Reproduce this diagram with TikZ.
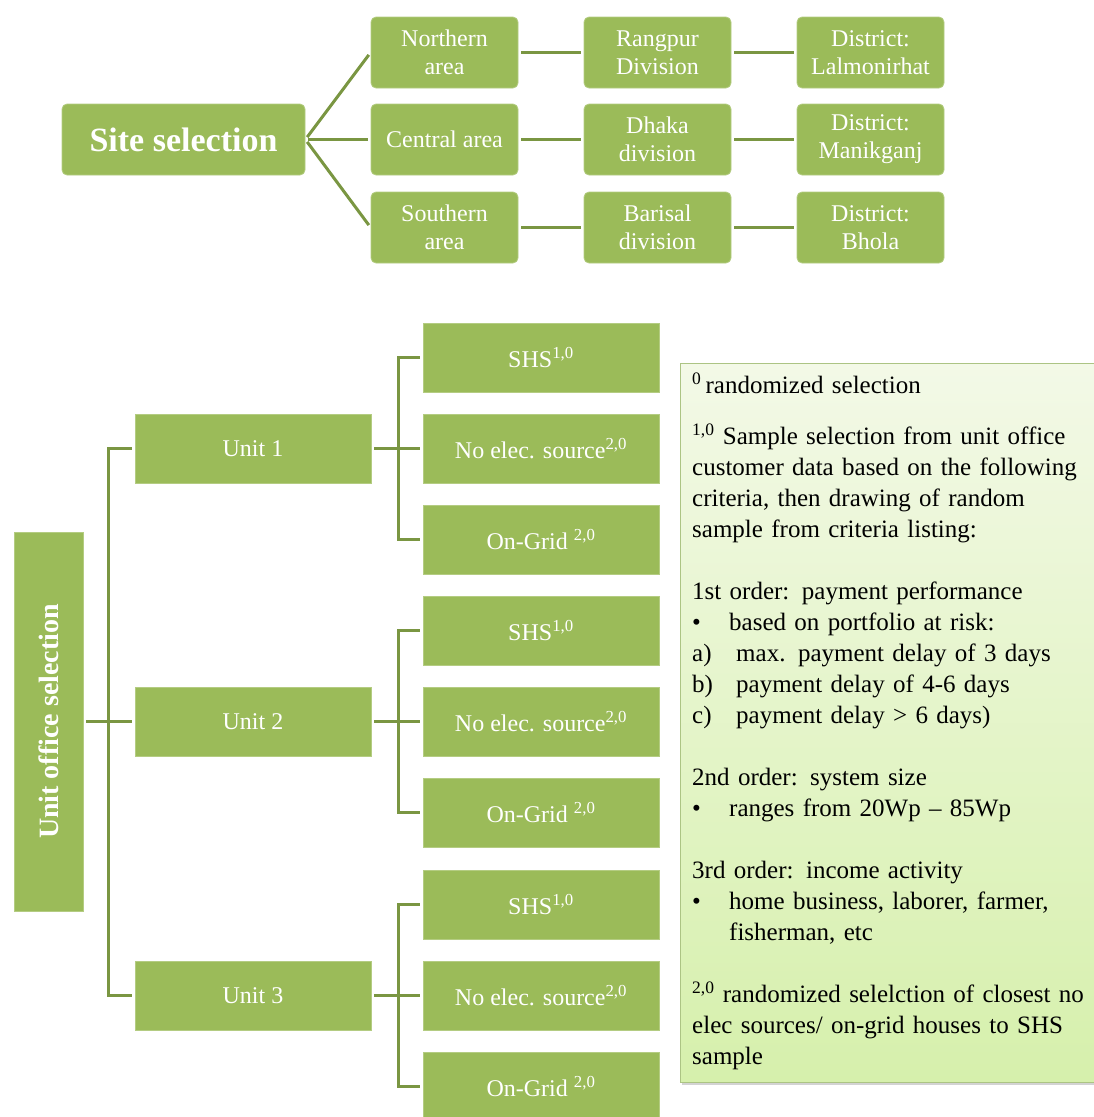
\documentclass[tikz,border=0pt]{standalone}
\usepackage{fontspec}
\setmainfont{Liberation Serif}
\usepackage{graphicx}
\usepackage{tikz}
\usetikzlibrary{calc,shadows}
\definecolor{boxgreen}{RGB}{155,187,89}
\definecolor{linkgreen}{RGB}{122,150,66}
\definecolor{notetop}{RGB}{243,249,231}
\definecolor{notebot}{RGB}{214,240,172}
\definecolor{noteedge}{RGB}{172,196,132}
\tikzset{
  sitebox/.style={fill=boxgreen,draw=boxgreen!75!white,line width=0.8pt,rounded corners=5pt,
    text=white,align=center,inner sep=0pt,minimum width=147pt,minimum height=71pt,
    font=\fontsize{24}{28}\selectfont},
  unitbox/.style={fill=boxgreen,draw=boxgreen!75!white,line width=0.8pt,text=white,
    align=center,inner sep=0pt,minimum width=236pt,minimum height=69pt,
    font=\fontsize{24}{28}\selectfont},
  link/.style={linkgreen,line width=3pt,shorten <=3pt,shorten >=3pt},
  notetext/.style={anchor=north west,inner sep=0pt,align=left,text width=400pt,
    font=\fontsize{25}{31}\selectfont},
}

\begin{document}
\begin{tikzpicture}[x=1pt,y=-1pt]
  \useasboundingbox (0,0) rectangle (1094,1117);
  % site selection
  \node[sitebox,minimum width=243pt,font=\fontsize{34}{36}\selectfont\bfseries] (site) at (183.5,139.5) {Site selection};
  \node[sitebox] (north) at (444.5,52.5) {Northern\\area};
  \node[sitebox] (central) at (444.5,139.5) {Central area};
  \node[sitebox] (south) at (444.5,227.5) {Southern\\area};
  \node[sitebox] (rangpur) at (657.5,52.5) {Rangpur\\Division};
  \node[sitebox] (dhaka) at (657.5,139.5) {Dhaka\\division};
  \node[sitebox] (barisal) at (657.5,227.5) {Barisal\\division};
  \node[sitebox] (lalmon) at (870.5,52.5) {District:\\Lalmonirhat};
  \node[sitebox] (manik) at (870.5,139.5) {District:\\Manikganj};
  \node[sitebox] (bhola) at (870.5,227.5) {District:\\Bhola};
  \draw[link] (site.east) -- (north.west);
  \draw[link] (site.east) -- (central.west);
  \draw[link] (site.east) -- (south.west);
  \draw[link] (north) -- (rangpur);
  \draw[link] (central) -- (dhaka);
  \draw[link] (south) -- (barisal);
  \draw[link] (rangpur) -- (lalmon);
  \draw[link] (dhaka) -- (manik);
  \draw[link] (barisal) -- (bhola);

  % unit office selection
  \node[unitbox,minimum width=69pt,minimum height=379pt,font=\fontsize{28}{30}\selectfont\bfseries] (office) at (48.5,721.5) {\rotatebox{90}{Unit office selection}};
  \node[unitbox] (unit1) at (253,448.5) {Unit 1};
  \node[unitbox] (unit2) at (253,721.5) {Unit 2};
  \node[unitbox] (unit3) at (253,995.5) {Unit 3};
  \node[unitbox] (shs1) at (541,357.5) {SHS\textsuperscript{1,0}};
  \node[unitbox] (noel1) at (541,448.5) {No elec. source\textsuperscript{2,0}};
  \node[unitbox] (grid1) at (541,539.5) {On-Grid \textsuperscript{2,0}};
  \node[unitbox] (shs2) at (541,630.5) {SHS\textsuperscript{1,0}};
  \node[unitbox] (noel2) at (541,721.5) {No elec. source\textsuperscript{2,0}};
  \node[unitbox] (grid2) at (541,812.5) {On-Grid \textsuperscript{2,0}};
  \node[unitbox] (shs3) at (541,904.5) {SHS\textsuperscript{1,0}};
  \node[unitbox] (noel3) at (541,995.5) {No elec. source\textsuperscript{2,0}};
  \node[unitbox] (grid3) at (541,1086.5) {On-Grid \textsuperscript{2,0}};
  \coordinate (bus0) at (108,721.5);
  \coordinate (bus1) at (398,448.5);
  \coordinate (bus2) at (398,721.5);
  \coordinate (bus3) at (398,995.5);
  \draw[link] (unit1.west) -| (bus0) |- (unit3.west);
  \draw[link] (office) -- (unit2);
  \draw[link] (shs1.west) -| (bus1) |- (grid1.west);
  \draw[link] (unit1) -- (noel1);
  \draw[link] (shs2.west) -| (bus2) |- (grid2.west);
  \draw[link] (unit2) -- (noel2);
  \draw[link] (shs3.west) -| (bus3) |- (grid3.west);
  \draw[link] (unit3) -- (noel3);

  % notes
  \draw[noteedge,line width=1pt,top color=notetop,bottom color=notebot,
    drop shadow={shadow xshift=2pt,shadow yshift=-3pt,opacity=0.35}] (680,363) rectangle (1140,1082);
  \node[notetext] (notes) at (692,373) {%
    \textsuperscript{0}\,randomized selection\\[20pt]
    \textsuperscript{1,0} Sample selection from unit office\\
    customer data based on the following\\
    criteria, then drawing of random\\
    sample from criteria listing:\\[31pt]
    1st order: payment performance\\
    \makebox[37pt][l]{\textbullet}based on portfolio at risk:\\
    \makebox[44pt][l]{a)}max. payment delay of 3 days\\
    \makebox[44pt][l]{b)}payment delay of 4-6 days\\
    \makebox[44pt][l]{c)}payment delay > 6 days)\\[31pt]
    2nd order: system size\\
    \makebox[37pt][l]{\textbullet}ranges from 20Wp -- 85Wp\\[31pt]
    3rd order: income activity\\
    \makebox[37pt][l]{\textbullet}home business, laborer, farmer,\\
    \hspace*{37pt}fisherman, etc\\[31pt]
    \textsuperscript{2,0} randomized selelction of closest no\\
    elec sources/ on-grid houses to SHS\\
    sample};
\end{tikzpicture}
\end{document}
